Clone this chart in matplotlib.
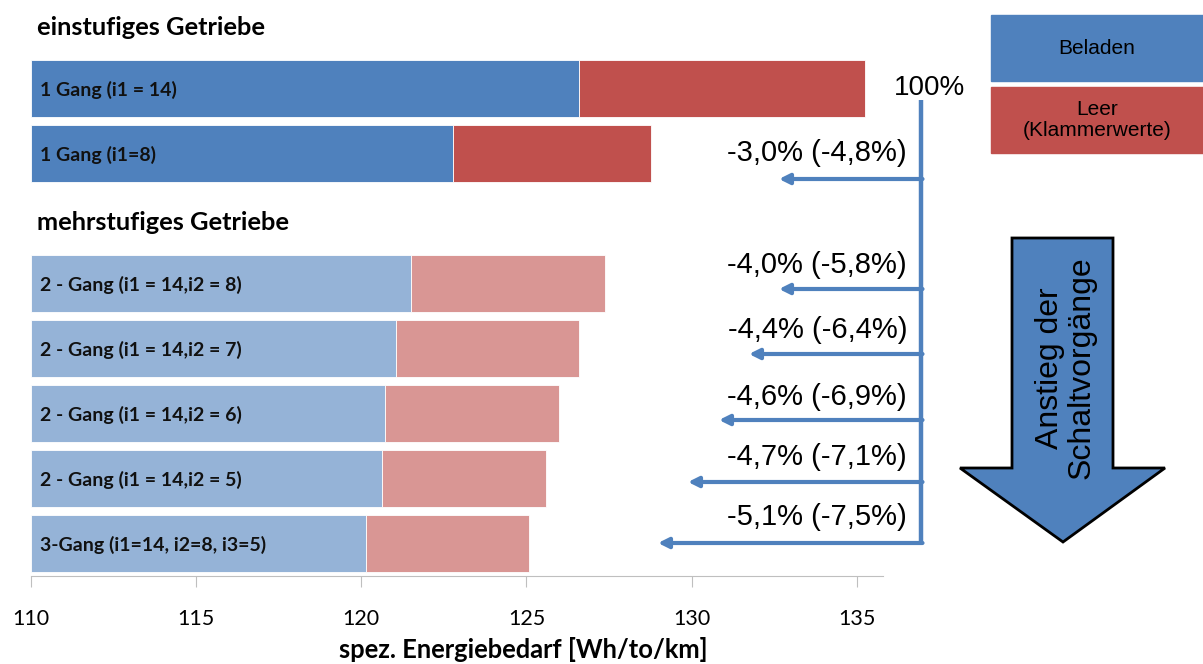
import numpy as np
import matplotlib.pyplot as plt
from matplotlib.patches import Polygon, Rectangle

# data
labels = ["1 Gang (i1 = 14)", "1 Gang (i1=8)",
          "2 - Gang (i1 = 14,i2 = 8)", "2 - Gang (i1 = 14,i2 = 7)",
          "2 - Gang (i1 = 14,i2 = 6)", "2 - Gang (i1 = 14,i2 = 5)",
          "3-Gang (i1=14, i2=8, i3=5)"]
slots = [0, 1, 3, 4, 5, 6, 7]
beladen = [126.58, 122.79, 121.51, 121.05, 120.73, 120.62, 120.15]
leer = [135.24, 128.78, 127.37, 126.59, 125.97, 125.60, 125.07]
groups = ["einstufiges Getriebe", "mehrstufiges Getriebe"]
group_slots = [-1, 2]
pct_texts = ["-3,0% (-4,8%)", "-4,0% (-5,8%)", "-4,4% (-6,4%)",
             "-4,6% (-6,9%)", "-4,7% (-7,1%)", "-5,1% (-7,5%)"]
xticks = [110, 115, 120, 125, 130, 135]

dark_blue, dark_red = "#4F81BD", "#C0504D"
light_blue, light_red = "#95B3D7", "#D99694"
cal = "Lato"
ari = "Liberation Sans"

fig = plt.figure(figsize=(12.03, 6.64), dpi=100)
ax = fig.add_axes([30.6/1203, 88/664, 852.9/1203, 526.5/664])

for i, (s, b, l) in enumerate(zip(slots, beladen, leer)):
    cb = dark_blue if i < 2 else light_blue
    cr = dark_red if i < 2 else light_red
    ax.barh(s, b - 110, left=110, height=0.89, color=cb, edgecolor="white", linewidth=0.6)
    ax.barh(s, l - b, left=b, height=0.89, color=cr, edgecolor="white", linewidth=0.6)
    ax.text(110.28, s + 0.02, labels[i], va="center", ha="left", fontsize=14,
            fontweight="bold", family=cal, color="#111111")

for g, s in zip(groups, group_slots):
    ax.text(110.18, s + 0.06, g, va="center", ha="left", fontsize=18.3,
            fontweight="bold", family=cal, clip_on=False)

ax.set_xlim(110, 135.8)
ax.set_ylim(7.5, -0.6)
ax.set_xticks(xticks)
ax.set_xticklabels([str(t) for t in xticks], family=cal, fontsize=15.5)
ax.set_yticks([])
for sp in ["top", "right", "left"]:
    ax.spines[sp].set_visible(False)
ax.spines["bottom"].set_color("#BFBFBF")
ax.tick_params(axis="x", length=8, color="#BFBFBF", pad=16)
ax.set_xlabel("spez. Energiebedarf [Wh/to/km]", family=cal, fontsize=18.4,
              fontweight="bold")
ax.xaxis.set_label_coords((523 - 30.6) / 852.9, -0.115)

# overlay in pixel coordinates
ov = fig.add_axes([0, 0, 1, 1], zorder=5)
ov.set_xlim(0, 1203)
ov.set_ylim(664, 0)
ov.axis("off")
ov.patch.set_alpha(0)

arrow_col = "#4F81BD"
ov.plot([921, 921], [100, 543], color=arrow_col, lw=3.2, solid_capstyle="butt")
ov.text(930, 88, "100%", ha="center", va="center", fontsize=20, family=ari)
arrow_y = [179, 289, 354, 420, 482, 543]
arrow_tip = [779, 779, 749, 719, 688, 658]
text_y = [153, 265, 330, 397, 457, 517]
for t, ay, tip, ty in zip(pct_texts, arrow_y, arrow_tip, text_y):
    ov.annotate("", xy=(tip, ay), xytext=(922.5, ay),
                arrowprops=dict(arrowstyle="-|>,head_length=0.6,head_width=0.3",
                                color=arrow_col, lw=3, shrinkA=0, shrinkB=0))
    ov.text(907, ty, t, ha="right", va="center", fontsize=21, family=ari)

# legend boxes
ov.add_patch(Rectangle((991, 15), 212, 66, color=dark_blue))
ov.text(1097, 49, "Beladen", ha="center", va="center", fontsize=15, family=ari)
ov.add_patch(Rectangle((991, 87), 212, 66, color=dark_red))
ov.text(1097, 120, "Leer\n(Klammerwerte)", ha="center", va="center", fontsize=15,
        family=ari, linespacing=1.1)

# big down arrow
big = Polygon([(1012, 238), (1113, 238), (1113, 468), (1165, 468), (1063, 542),
               (960, 468), (1012, 468)], closed=True, facecolor=dark_blue,
              edgecolor="black", lw=2)
ov.add_patch(big)
ov.text(1066, 368, "Anstieg der\nSchaltvorgänge", rotation=90, ha="center",
        va="center", fontsize=23, family=ari, linespacing=1.05)

fig.savefig("out.png", dpi=100)
